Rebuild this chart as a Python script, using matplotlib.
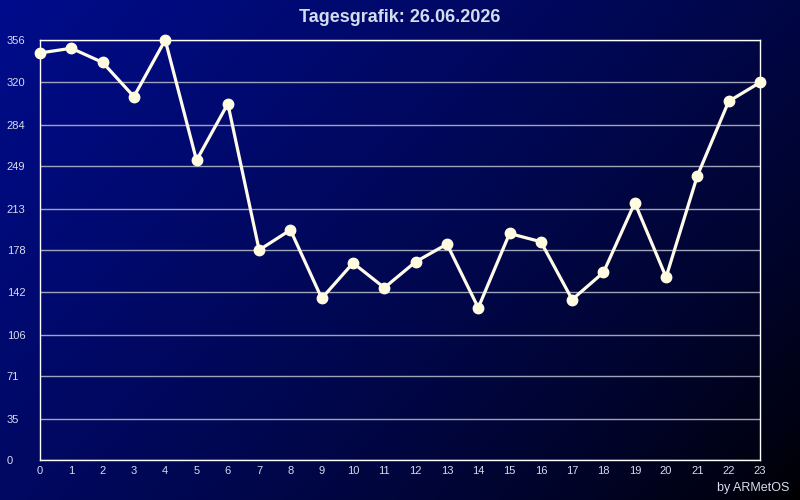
import numpy as np
import matplotlib
matplotlib.use('Agg')
import matplotlib.pyplot as plt

plt.rcParams['font.family'] = ['Liberation Sans', 'DejaVu Sans']

hours = list(range(24))
values = [345, 349, 337, 308, 356, 254, 302, 178, 195, 137, 167, 146,
          168, 183, 129, 192, 185, 136, 159, 218, 155, 241, 304, 320]
y_ticks = [0, 35, 71, 106, 142, 178, 213, 249, 284, 320, 356]
title = 'Tagesgrafik: 26.06.2026'
credit = 'by ARMetOS'

W, H = 800, 500
fig = plt.figure(figsize=(W / 100, H / 100), dpi=100)

# diagonal blue -> black background
bg = fig.add_axes([0, 0, 1, 1], zorder=-10)
gx, gy = np.meshgrid(np.linspace(0, 1, 200), np.linspace(0, 1, 125))
t = np.clip((gx * W + gy * H) / (W + H), 0, 1)
top = np.array([0, 12, 140]) / 255
img = top[None, None, :] * (1 - t[..., None]) ** 0.75
bg.imshow(img, aspect='auto', extent=[0, 1, 0, 1], origin='upper')
bg.axis('off')

ax = fig.add_axes([40 / W, 1 - 460 / H, 720 / W, 420 / H])
ax.patch.set_alpha(0)
ax.plot(hours, values, color='#fffbe8', lw=2.3, marker='o', ms=7.5,
        markerfacecolor='#fffbe0', markeredgecolor='#fffbe0', zorder=3,
        clip_on=False)
ax.set_xlim(0, 23)
ax.set_ylim(0, 356)
ax.set_xticks(hours)
ax.set_yticks(y_ticks)
ax.set_yticklabels([str(v) for v in y_ticks], ha='left')
ax.grid(axis='y', color='#a0a4b8', lw=1)
ax.set_axisbelow(True)
for s in ax.spines.values():
    s.set_color('white')
    s.set_linewidth(1.0)
ax.tick_params(axis='both', length=0, colors='#d8dcec', labelsize=8)
ax.tick_params(axis='y', pad=24)
ax.tick_params(axis='x', pad=4)

fig.text(0.5, 1 - 17 / H, title, ha='center', va='center', fontsize=13,
         fontweight='bold', color='#d4dcf0')
fig.text(789 / W, 1 - 488 / H, credit, ha='right', va='center', fontsize=9,
         color='#d8dcec')

fig.savefig('out.png', dpi=100)
